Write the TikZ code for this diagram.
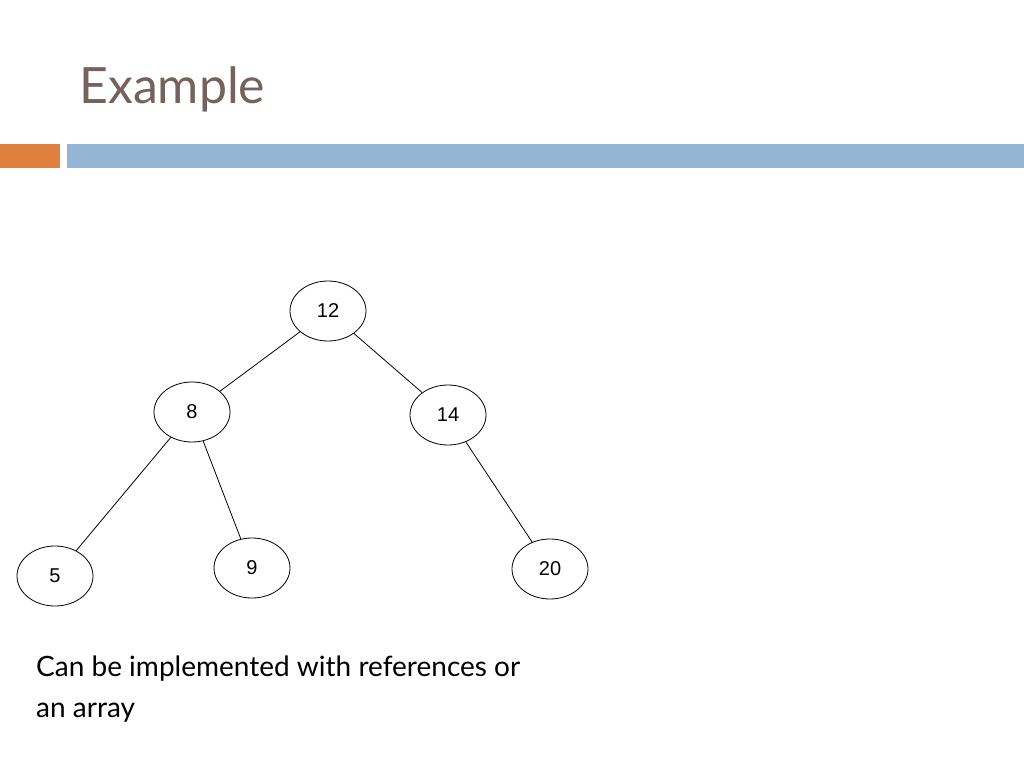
\documentclass[tikz,border=0pt]{standalone}
\usepackage{fontspec}
\setmainfont{Liberation Sans}
\newfontfamily\tfont{Lato}
\usetikzlibrary{shapes.geometric}
\definecolor{titlec}{HTML}{76625C}
\definecolor{orangec}{HTML}{E0803F}
\definecolor{bluec}{HTML}{93B5D3}
\tikzset{tn/.style={ellipse,draw,line width=0.8pt,minimum width=76pt,minimum height=60pt,inner sep=0pt,font=\fontsize{20}{24}\selectfont}}
\begin{document}
\begin{tikzpicture}[x=1pt,y=-1pt]
\useasboundingbox (0,0) rectangle (1024,768);
\node[anchor=base west,inner sep=0pt,text=titlec,font=\tfont\fontsize{50}{60}\selectfont] (title) at (79,103) {Example};
\fill[orangec] (0,144) rectangle (60,168);
\fill[bluec] (67,144) rectangle (1024,168);
\node[tn] (n12) at (328,311) {12};
\node[tn] (n8) at (192,412) {8};
\node[tn] (n14) at (448,415) {14};
\node[tn] (n5) at (55,576) {5};
\node[tn] (n9) at (252,568) {9};
\node[tn] (n20) at (550,569) {20};
\draw[line width=0.8pt] (n12) -- (n8);
\draw[line width=0.8pt] (n12) -- (n14);
\draw[line width=0.8pt] (n8) -- (n5);
\draw[line width=0.8pt] (n8) -- (n9);
\draw[line width=0.8pt] (n14) -- (n20);
\node[anchor=base west,inner sep=0pt,font=\tfont\fontsize{28}{40}\selectfont] (t1) at (36,676) {Can be implemented with references or};
\node[anchor=base west,inner sep=0pt,font=\tfont\fontsize{28}{40}\selectfont] (t2) at (36,717) {an array};
\end{tikzpicture}
\end{document}
